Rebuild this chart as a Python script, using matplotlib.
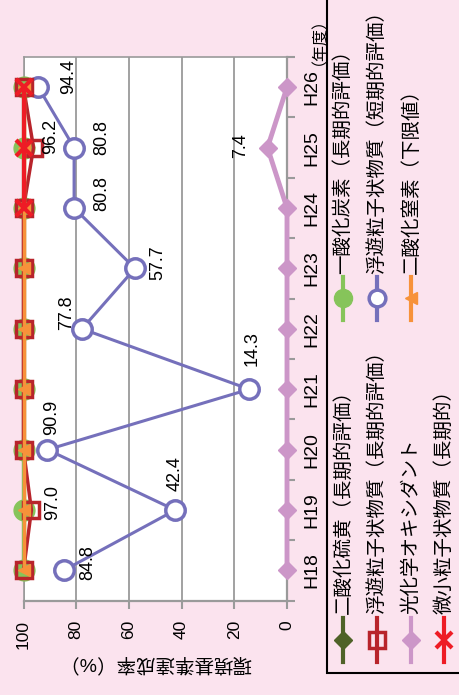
import numpy as np
import matplotlib
matplotlib.use('Agg')
from matplotlib import pyplot as plt
from matplotlib.patches import Rectangle

plt.rcParams['font.family'] = ['Liberation Sans', 'Noto Sans CJK JP']

# data
years = ['H18', 'H19', 'H20', 'H21', 'H22', 'H23', 'H24', 'H25', 'H26']
so2 = [100, 100, 100, 100, 100, 100, 100, 100, 100]
co = [100, 100, 100, 100, 100, 100, 100, 100, 100]
spm_long = [100, 97.0, 100, 100, 100, 100, 100, 96.2, 100]
spm_short = [84.8, 42.4, 90.9, 14.3, 77.8, 57.7, 80.8, 80.8, 94.4]
ox = [0, 0, 0, 0, 0, 0, 0, 7.4, 0]
no2 = [100, 100, 100, 100, 100, 100, 100, 100, 100]
pm25 = [np.nan, np.nan, np.nan, np.nan, np.nan, np.nan, 100, 100, 100]
value_ticks = [0, 20, 40, 60, 80, 100]

names_left = ['二酸化硫黄（長期的評価）', '浮遊粒子状物質（長期的評価）',
              '光化学オキシダント', '微小粒子状物質（長期的）']
names_right = ['一酸化炭素（長期的評価）', '浮遊粒子状物質（短期的評価）',
               '二酸化窒素（下限値）']

PINK = '#fbe3ee'
GRAY = '#9a9a9a'
c_so2, c_co, c_spml, c_spms = '#4f6228', '#86c45a', '#b8242b', '#7570bb'
c_ox, c_no2, c_pm = '#cc96c8', '#f7923a', '#ee1c25'

W, H = 460, 695
fig = plt.figure(figsize=(W / 100, H / 100), dpi=100, facecolor=PINK)

# chart is drawn turned on its side: values run right->left, years bottom->top
ax = fig.add_axes([23.5 / W, 1 - 600.7 / H, (287 - 23.5) / W, (600.7 - 57) / H])
ax.set_facecolor('white')
idx = np.arange(len(years))

series = [
    (so2, dict(color=c_so2, lw=3, marker='D', ms=9, zorder=2)),
    (co, dict(color=c_co, lw=3, marker='o', ms=15, zorder=3)),
    (ox, dict(color=c_ox, lw=3.5, marker='D', ms=9, zorder=4)),
    (spm_short, dict(color=c_spms, lw=2.2, marker='o', ms=14, mfc='white', mew=2.5, zorder=5)),
    (spm_long, dict(color=c_spml, lw=2.5, marker='s', ms=11, mfc='none', mew=2.5, zorder=6)),
    (no2, dict(color=c_no2, lw=2.5, marker='<', ms=9, zorder=7)),
    (pm25, dict(color=c_pm, lw=3, marker='x', ms=11, mew=3, zorder=8)),
]
for vals, kw in series:
    ax.plot(vals, idx, clip_on=False, **kw)

ax.set_xlim(100, 0)
ax.set_ylim(-0.5, len(years) - 0.5)

# data labels (offset in pixels, x right / y up)
def label(vals, i, dx, dy):
    ax.annotate(f'{vals[i]:.1f}', (vals[i], i), xytext=(dx, dy), textcoords='offset pixels',
                rotation=90, ha='center', va='center', fontsize=13, zorder=10)

for i, (dx, dy) in enumerate([(24, 8), (0, 37), (4, 32), (3, 41), (-15, 16),
                              (23, 6), (28, 15), (28, 10), (30, 11)]):
    label(spm_short, i, dx, dy)
label(spm_long, 1, 21, 8)
label(spm_long, 7, 17, 11)
label(ox, 7, -27, 2)

# axes styling
ax.set_xticks(value_ticks)
ax.grid(axis='x', color=GRAY, lw=1.3)
ax.set_axisbelow(True)
for s in ['left', 'top']:
    ax.spines[s].set_color(GRAY)
    ax.spines[s].set_linewidth(1.2)
for s in ['bottom', 'right']:
    ax.spines[s].set_color(GRAY)
    ax.spines[s].set_linewidth(1.6)
ax.tick_params(axis='x', direction='out', length=6, width=1.5, color=GRAY, pad=8,
               labelsize=12.5, labelrotation=90)

ax.yaxis.tick_right()
ax.set_yticks(np.arange(-0.5, len(years), 1))
ax.set_yticklabels([])
ax.set_yticks(idx, minor=True)
ax.set_yticklabels(years, minor=True)
ax.tick_params(axis='y', which='major', direction='out', length=6, width=1.5, color=GRAY)
ax.tick_params(axis='y', which='minor', length=0, pad=12, labelsize=14, labelrotation=90)
for t in ax.get_yticklabels(minor=True):
    t.set_va('center')

# overlay in pixel coordinates for legend and side texts
ov = fig.add_axes([0, 0, 1, 1], zorder=20)
ov.set_xlim(0, W)
ov.set_ylim(H, 0)
ov.axis('off')
ov.patch.set_alpha(0)

ov.text(155, 662, '環境基準達成率（%）', rotation=180, ha='center', va='center', fontsize=14)
ov.text(311, 1, '（年度）', rotation=90, ha='center', va='top', fontsize=11.5)

ov.add_patch(Rectangle((327, -10), 150, 683, fill=False, ec='black', lw=1.5))

cols = [343, 377, 411, 444]
left_style = [
    dict(color=c_so2, marker='D', ms=9),
    dict(color=c_spml, marker='s', ms=11, mfc='none', mew=2.5),
    dict(color=c_ox, marker='D', ms=9),
    dict(color=c_pm, marker='x', ms=11, mew=3),
]
right_style = [
    dict(color=c_co, marker='o', ms=13),
    dict(color=c_spms, marker='o', ms=12, mfc='white', mew=2.5),
    dict(color=c_no2, marker='<', ms=9),
]
for x, name, st in zip(cols, names_left, left_style):
    ov.plot([x, x], [618, 662], lw=3, color=st['color'])
    ov.plot([x], [640], lw=0, **st)
    ov.text(x, 614, name, rotation=90, ha='center', va='bottom', fontsize=14)
for x, name, st in zip(cols, names_right, right_style):
    ov.plot([x, x], [277, 320], lw=3, color=st['color'])
    ov.plot([x], [298], lw=0, **st)
    ov.text(x, 274, name, rotation=90, ha='center', va='bottom', fontsize=14)

fig.savefig('out.png', dpi=100, facecolor=PINK)
